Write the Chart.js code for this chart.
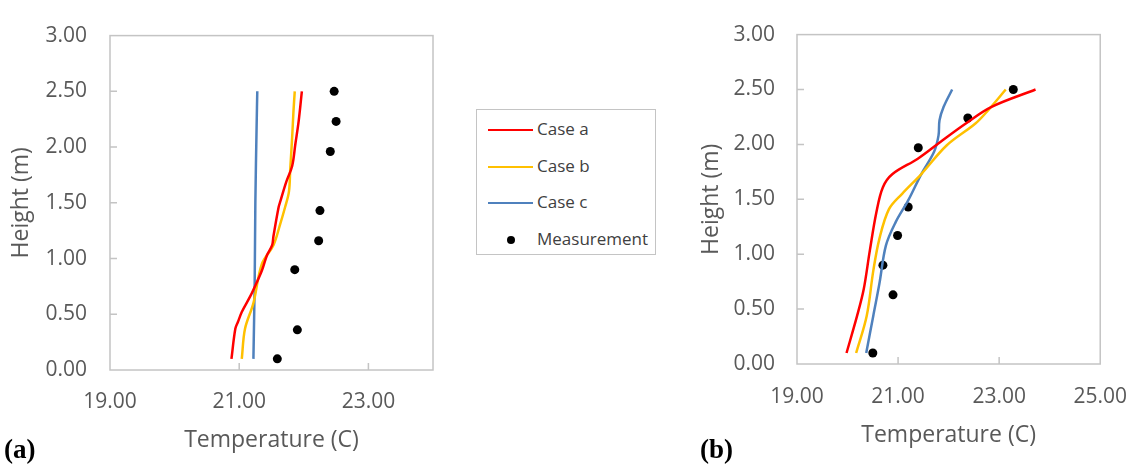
<!DOCTYPE html>
<html>
<head>
<meta charset="utf-8">
<script src="https://cdn.jsdelivr.net/npm/chart.js@4.4.1/dist/chart.umd.min.js"></script>
<style>
  body { margin: 0; background: #fff; width: 1147px; height: 467px; position: relative; overflow: hidden; font-family: "Open Sans", sans-serif; }
  .wrap { position: absolute; top: 0; height: 467px; }
  #wrapA { left: 0; width: 450px; }
  #wrapB { left: 690px; width: 457px; }
  .panel { position: absolute; top: 434px; font-family: "Liberation Serif", serif; font-weight: bold; font-size: 27px; color: #000; }
  #legend { position: absolute; left: 476px; top: 109px; width: 180px; height: 146px; border: 1.5px solid #c4c4c4; box-sizing: border-box; }
  .item { position: absolute; left: 0; height: 24px; width: 100%; font-size: 17px; color: #404040; }
  .item .sw { position: absolute; left: 11px; top: 11px; width: 45px; height: 2px; }
  .item .dot { position: absolute; left: 30px; top: 8px; width: 8px; height: 8px; border-radius: 50%; background: #000; }
  .item span { position: absolute; left: 60px; top: -1px; }
</style>
</head>
<body>
<div class="wrap" id="wrapA"><canvas id="chartA"></canvas></div>
<div class="wrap" id="wrapB"><canvas id="chartB"></canvas></div>
<div id="legend"></div>
<div class="panel" style="left:4px">(a)</div>
<div class="panel" style="left:700px">(b)</div>
<script>
const seriesNames = ["Case a", "Case b", "Case c", "Measurement"];
const seriesColors = ["#ff0000", "#ffc000", "#4f81bd", "#000000"];
const yTicks = [0, 0.5, 1, 1.5, 2, 2.5, 3];
const xTicksA = [19, 21, 23];
const xTicksB = [19, 21, 23, 25];

// (a)
const caseA_h_a = [0.10, 0.37, 0.43, 0.52, 0.66, 0.72, 0.89, 1.03, 1.12, 1.20, 1.46, 1.52, 1.69, 1.83, 2.03, 2.23, 2.50];
const caseA_t_a = [20.88, 20.94, 20.98, 21.04, 21.17, 21.22, 21.35, 21.43, 21.51, 21.53, 21.61, 21.64, 21.73, 21.82, 21.87, 21.92, 21.97];
const caseB_h_a = [0.10, 0.37, 0.60, 0.95, 1.12, 1.30, 1.46, 1.60, 1.80, 2.09, 2.32, 2.50];
const caseB_t_a = [21.04, 21.09, 21.22, 21.35, 21.53, 21.63, 21.71, 21.77, 21.79, 21.82, 21.84, 21.86];
const caseC_h_a = [0.10, 0.80, 1.50, 2.20, 2.50];
const caseC_t_a = [21.22, 21.24, 21.25, 21.27, 21.28];
const meas_h_a = [0.10, 0.36, 0.90, 1.16, 1.43, 1.96, 2.23, 2.50];
const meas_t_a = [21.59, 21.90, 21.86, 22.23, 22.25, 22.41, 22.50, 22.47];

// (b)
const caseA_h_b = [0.10, 0.44, 0.68, 1.03, 1.38, 1.61, 1.73, 1.87, 2.02, 2.19, 2.34, 2.50];
const caseA_t_b = [19.98, 20.19, 20.32, 20.44, 20.57, 20.70, 20.89, 21.39, 21.83, 22.34, 22.84, 23.72];
const caseB_h_b = [0.10, 0.44, 0.85, 1.14, 1.41, 1.55, 1.73, 1.99, 2.19, 2.31, 2.50];
const caseB_t_b = [20.17, 20.38, 20.51, 20.63, 20.82, 21.08, 21.46, 21.96, 22.53, 22.78, 23.13];
const caseC_h_b = [0.10, 0.44, 0.73, 1.08, 1.29, 1.49, 1.73, 1.93, 2.08, 2.22, 2.34, 2.50];
const caseC_t_b = [20.37, 20.51, 20.63, 20.76, 20.95, 21.20, 21.46, 21.71, 21.80, 21.82, 21.90, 22.07];
const meas_h_b = [0.10, 0.63, 0.90, 1.17, 1.43, 1.97, 2.24, 2.50];
const meas_t_b = [20.50, 20.90, 20.70, 20.99, 21.20, 21.40, 22.38, 23.28];

const pts = (t, h) => t.map((v, i) => ({ x: v, y: h[i] }));

// legend
const legendEl = document.getElementById("legend");
seriesNames.forEach((name, i) => {
  const row = document.createElement("div");
  row.className = "item";
  row.style.top = (8 + i * 36.5) + "px";
  const mark = i < 3
    ? `<div class="sw" style="background:${seriesColors[i]}"></div>`
    : `<div class="dot"></div>`;
  row.innerHTML = mark + `<span>${name}</span>`;
  legendEl.appendChild(row);
});

// frame + inner tick marks
const framePlugin = {
  id: "frame",
  beforeDatasetsDraw(chart) {
    const { ctx, chartArea: a, scales } = chart;
    ctx.save();
    ctx.strokeStyle = "#c4c4c4";
    ctx.lineWidth = 1.5;
    ctx.strokeRect(a.left, a.top, a.right - a.left, a.bottom - a.top);
    ctx.beginPath();
    scales.x.ticks.forEach(t => {
      const px = scales.x.getPixelForValue(t.value);
      if (px > a.left + 2 && px < a.right - 2) {
        ctx.moveTo(px, a.bottom);
        ctx.lineTo(px, a.bottom - 7);
      }
    });
    scales.y.ticks.forEach(t => {
      const py = scales.y.getPixelForValue(t.value);
      if (py > a.top + 2 && py < a.bottom - 2) {
        ctx.moveTo(a.left, py);
        ctx.lineTo(a.left + 7, py);
      }
    });
    ctx.stroke();
    ctx.restore();
  }
};

function makeChart(id, d, opt) {
  const lineSet = (label, data, color) => ({
    type: "line", label, data, borderColor: color, backgroundColor: color,
    borderWidth: 2.5, pointRadius: 0, tension: 0.35, showLine: true, fill: false
  });
  new Chart(document.getElementById(id), {
    type: "scatter",
    data: {
      datasets: [
        lineSet(seriesNames[0], d[0], seriesColors[0]),
        lineSet(seriesNames[1], d[1], seriesColors[1]),
        lineSet(seriesNames[2], d[2], seriesColors[2]),
        { label: seriesNames[3], data: d[3], pointRadius: 4.5, pointBackgroundColor: "#000", pointBorderWidth: 0, showLine: false }
      ]
    },
    options: {
      responsive: true,
      maintainAspectRatio: false,
      animation: false,
      layout: { padding: { top: 21, right: opt.padRight, left: 0, bottom: 0 } },
      plugins: { legend: { display: false }, tooltip: { enabled: false } },
      scales: {
        x: {
          type: "linear", min: opt.xTicks[0], max: opt.xMax,
          afterBuildTicks: s => { s.ticks = opt.xTicks.map(v => ({ value: v })); },
          afterFit: s => { s.height = opt.xHeight; },
          grid: { display: false, drawTicks: false },
          border: { display: false },
          ticks: { padding: opt.xTickPad, color: "#595959", font: { family: "Open Sans", size: 21 }, maxRotation: 0,
                   callback: v => Number(v).toFixed(2) },
          title: { display: true, text: "Temperature (C)", color: "#595959",
                   font: { family: "Open Sans", size: 23 }, padding: { top: 0, bottom: opt.xTitlePad } }
        },
        y: {
          type: "linear", min: 0, max: 3,
          afterBuildTicks: s => { s.ticks = yTicks.map(v => ({ value: v })); },
          afterFit: s => { s.width = opt.yWidth; },
          grid: { display: false, drawTicks: false },
          border: { display: false },
          ticks: { padding: opt.yTickPad, color: "#595959", font: { family: "Open Sans", size: 21 },
                   callback: v => Number(v).toFixed(2) },
          title: { display: true, text: "Height (m)", color: "#595959",
                   font: { family: "Open Sans", size: 23 }, padding: { top: 8, bottom: 0 } }
        }
      }
    },
    plugins: [framePlugin]
  });
}

makeChart("chartA",
  [pts(caseA_t_a, caseA_h_a), pts(caseB_t_a, caseB_h_a), pts(caseC_t_a, caseC_h_a), pts(meas_t_a, meas_h_a)],
  { xTicks: xTicksA, xMax: 24, padRight: 17, xHeight: 97, yWidth: 110, xTickPad: 19, yTickPad: 23, xTitlePad: 13 });

makeChart("chartB",
  [pts(caseA_t_b, caseA_h_b), pts(caseB_t_b, caseB_h_b), pts(caseC_t_b, caseC_h_b), pts(meas_t_b, meas_h_b)],
  { xTicks: xTicksB, xMax: 25, padRight: 33, xHeight: 103, yWidth: 107, xTickPad: 20, yTickPad: 22, xTitlePad: 18 });
</script>
</body>
</html>
